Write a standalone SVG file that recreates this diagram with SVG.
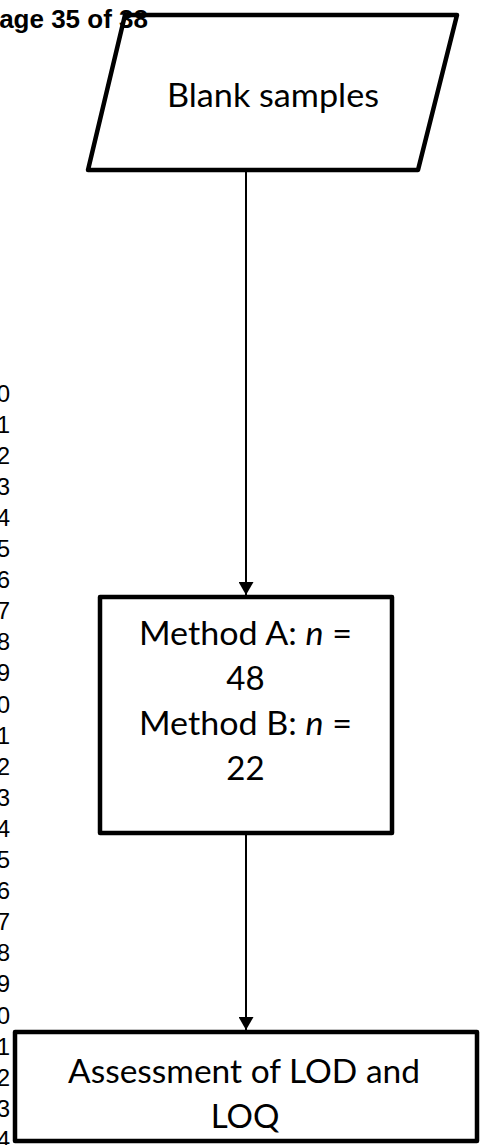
<svg xmlns="http://www.w3.org/2000/svg" width="484" height="1145" viewBox="0 0 484 1145">
  <style>
    .shape { fill: #ffffff; stroke: #000000; stroke-width: 4.5; stroke-linejoin: round; }
    .label { font-family: Lato, "Open Sans", sans-serif; font-size: 33px; fill: #000000; text-anchor: middle; }
    .edge { stroke: #000000; stroke-width: 2; fill: none; }
    .lineno { font-family: "Liberation Sans", Arial, sans-serif; font-size: 24px; fill: #000000; text-anchor: end; }
    .header { font-family: "Liberation Sans", Arial, sans-serif; font-size: 26px; font-weight: bold; fill: #000000; text-anchor: end; }
  </style>
  <defs>
    <marker id="arrowhead" viewBox="0 0 13 15" refX="13" refY="7.5" markerWidth="13" markerHeight="15" markerUnits="userSpaceOnUse" orient="auto">
      <path d="M0,0 L13,7.5 L0,15 z" fill="#000000"/>
    </marker>
  </defs>
  <rect width="484" height="1145" fill="#ffffff"/>

  <!-- margin line numbers -->
  <g id="line-numbers">
    <text class="lineno" x="10" y="401.5">10</text>
    <text class="lineno" x="10" y="432.6">11</text>
    <text class="lineno" x="10" y="463.7">12</text>
    <text class="lineno" x="10" y="494.8">13</text>
    <text class="lineno" x="10" y="525.9">14</text>
    <text class="lineno" x="10" y="557.0">15</text>
    <text class="lineno" x="10" y="588.1">16</text>
    <text class="lineno" x="10" y="619.2">17</text>
    <text class="lineno" x="10" y="650.3">18</text>
    <text class="lineno" x="10" y="681.4">19</text>
    <text class="lineno" x="10" y="712.5">20</text>
    <text class="lineno" x="10" y="743.6">21</text>
    <text class="lineno" x="10" y="774.7">22</text>
    <text class="lineno" x="10" y="805.8">23</text>
    <text class="lineno" x="10" y="836.9">24</text>
    <text class="lineno" x="10" y="868.0">25</text>
    <text class="lineno" x="10" y="899.1">26</text>
    <text class="lineno" x="10" y="930.2">27</text>
    <text class="lineno" x="10" y="961.3">28</text>
    <text class="lineno" x="10" y="992.4">29</text>
    <text class="lineno" x="10" y="1023.5">30</text>
    <text class="lineno" x="10" y="1054.6">31</text>
    <text class="lineno" x="10" y="1085.7">32</text>
    <text class="lineno" x="10" y="1116.8">33</text>
    <text class="lineno" x="10" y="1147.9">34</text>
  </g>

  <!-- connectors -->
  <g id="connectors">
    <line class="edge" x1="246" y1="170" x2="246" y2="595" marker-end="url(#arrowhead)"/>
    <line class="edge" x1="246" y1="833" x2="246" y2="1030" marker-end="url(#arrowhead)"/>
  </g>

  <!-- input: blank samples -->
  <g id="node-blank-samples">
    <polygon class="shape" points="125,15 457,15 418,170 88,170"/>
    <text class="label" x="273" y="107" textLength="212" lengthAdjust="spacingAndGlyphs">Blank samples</text>
  </g>

  <!-- process: sample counts per method -->
  <g id="node-methods">
    <rect class="shape" x="100" y="597" width="292" height="236"/>
    <text class="label" x="245.5" y="645" textLength="213" lengthAdjust="spacingAndGlyphs">Method A: <tspan font-style="italic">n</tspan> =</text>
    <text class="label" x="245.5" y="690">48</text>
    <text class="label" x="245.5" y="735" textLength="213" lengthAdjust="spacingAndGlyphs">Method B: <tspan font-style="italic">n</tspan> =</text>
    <text class="label" x="245.5" y="780">22</text>
  </g>

  <!-- output: LOD / LOQ assessment -->
  <g id="node-assessment">
    <rect class="shape" x="15" y="1032" width="462" height="109"/>
    <text class="label" x="244" y="1083" textLength="352" lengthAdjust="spacingAndGlyphs">Assessment of LOD and</text>
    <text class="label" x="245" y="1128">LOQ</text>
  </g>

  <!-- page header -->
  <text class="header" x="148" y="28">Page 35 of 38</text>
</svg>
